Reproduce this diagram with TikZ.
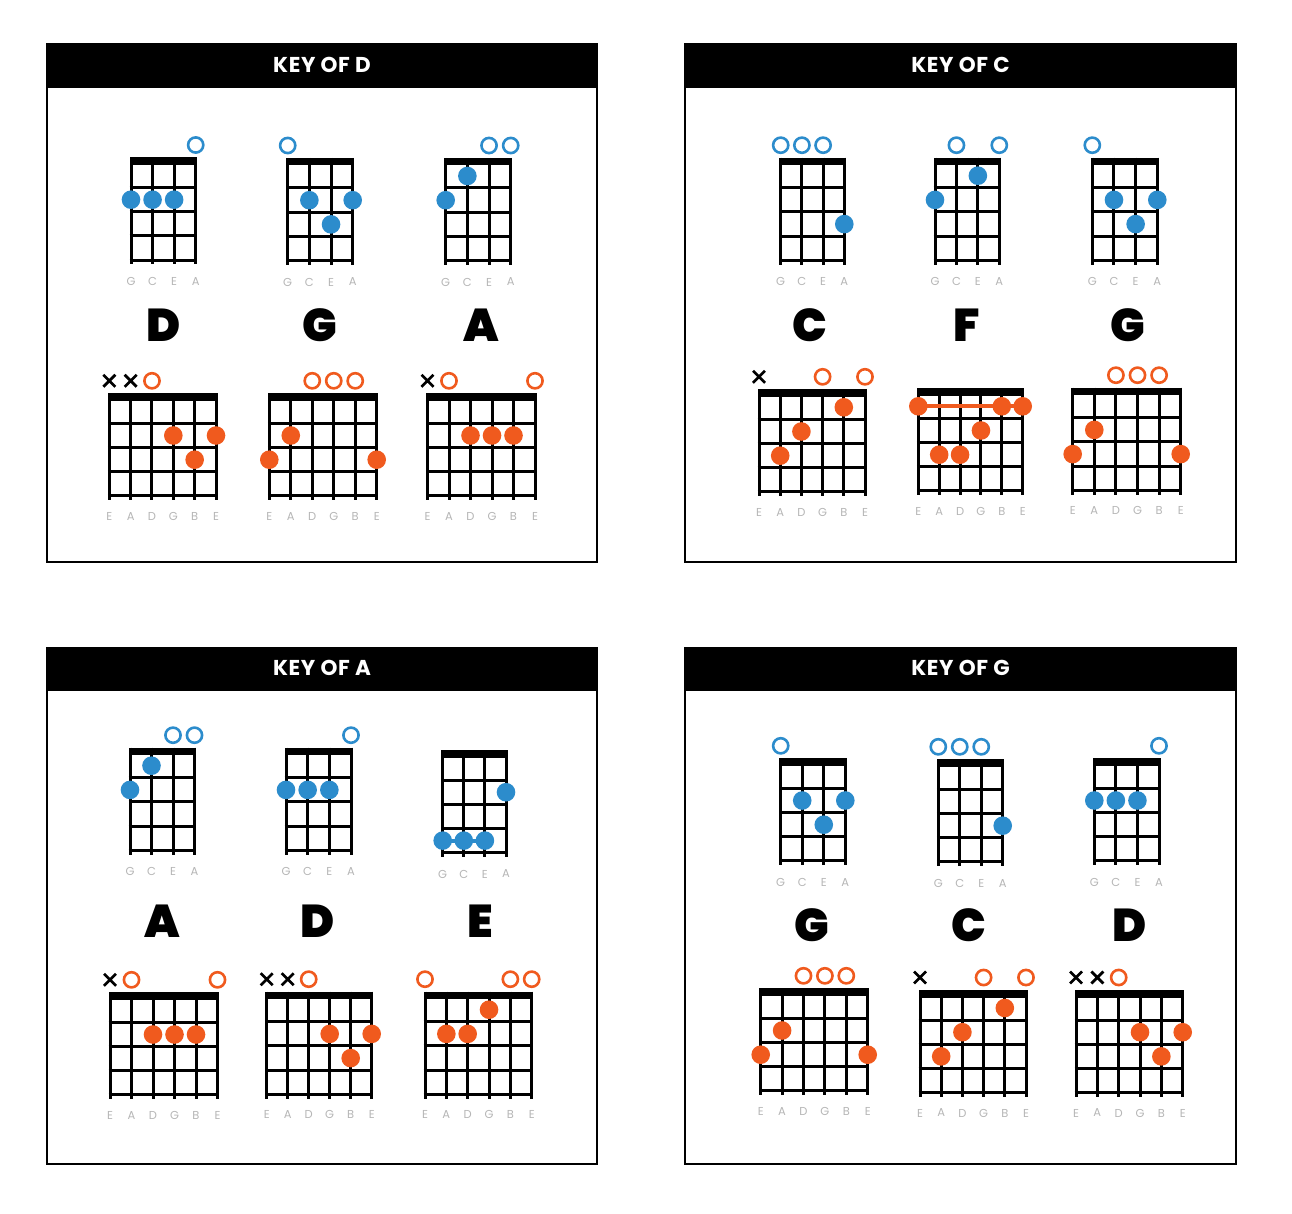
\documentclass[tikz,border=0pt]{standalone}
\usepackage{fontspec}
\setmainfont{Poppins}
\newfontfamily\chordfont{Poppins Black}
\newfontfamily\headfont{Poppins}[UprightFont=* Bold, LetterSpace=3]
\definecolor{ublue}{RGB}{44,140,204}
\definecolor{gorange}{RGB}{240,90,30}
\definecolor{lblgrey}{RGB}{182,182,182}
\tikzset{
  gridline/.style={line width=3pt, black},
  openmark/.style={line width=2.6pt, fill=white},
  xmark/.style={line width=2.7pt, black},
  strlabel/.style={font=\fontsize{11.5}{11.5}\selectfont, text=lblgrey, inner sep=0pt},
  chordname/.style={font=\chordfont\fontsize{46}{46}\selectfont, inner sep=0pt, anchor=base},
  header/.style={font=\headfont\fontsize{21.5}{21.5}\selectfont, text=white, inner sep=0pt},
  panelframe/.style={line width=2pt, black},
}
% grid: left string x, right string x, nut top y, number of strings
\newcommand\cgrid[4]{%
  \pgfmathsetmacro\gxl{#1}%
  \pgfmathsetmacro\gxr{#2}%
  \pgfmathsetmacro\gy{#3}%
  \pgfmathsetmacro\gdx{(#2-#1)/(#4-1)}%
  \pgfmathtruncatemacro\gn{#4-1}%
  \foreach \i in {0,...,\gn}{\draw[gridline] ({\gxl+\i*\gdx},\gy) -- ({\gxl+\i*\gdx},{\gy+107});}
  \foreach \k in {0,...,3}{\draw[gridline] ({\gxl-1.5},{\gy+30+24.2*\k}) -- ({\gxr+1.5},{\gy+30+24.2*\k});}
  \fill ({\gxl-1.5},\gy) rectangle ({\gxr+1.5},{\gy+7.5});
}
\newcommand\fng[3]{\fill[#3] ({\gxl+(#1-1)*\gdx},{\gy+18+24.2*(#2-1)}) circle[radius=9.3];}
\newcommand\opn[2]{\draw[openmark,draw=#2] ({\gxl+(#1-1)*\gdx},{\gy-12.5}) circle[radius=7.6];}
\newcommand\mut[1]{\draw[xmark] ({\gxl+(#1-1)*\gdx-6},{\gy-18.5}) -- ++(12,12) ({\gxl+(#1-1)*\gdx-6},{\gy-6.5}) -- ++(12,-12);}
\newcommand\cbarre[4]{\draw[line width=4pt,#4] ({\gxl+(#1-1)*\gdx},{\gy+18+24.2*(#3-1)}) -- ({\gxl+(#2-1)*\gdx},{\gy+18+24.2*(#3-1)});}
\newcommand\ukelabels{\foreach \l [count=\c] in {G,C,E,A}{\node[strlabel] at ({\gxl+(\c-1)*\gdx},{\gy+124}) {\l};}}
\newcommand\gtrlabels{\foreach \l [count=\c] in {E,A,D,G,B,E}{\node[strlabel] at ({\gxl+(\c-1)*\gdx},{\gy+123}) {\l};}}
\newcommand\panel[5]{%
  \draw[panelframe] (#1,#3) rectangle (#2,#4);
  \fill ({#1-1},{#3-0.5}) rectangle ({#2+1},{#3+43.5});
  \node[header] at ({(#1+#2)/2},{#3+20.5}) {#5};
}
\begin{document}
\begin{tikzpicture}[x=1pt,y=-1pt]
\useasboundingbox[fill=white] (0,0) rectangle (1292,1214);
% ===== panels
\panel{47}{597}{44.5}{561.5}{KEY OF D}
\panel{685}{1236}{44.5}{561.5}{KEY OF C}
\panel{47}{597}{647.5}{1164}{KEY OF A}
\panel{685}{1236}{647.5}{1164}{KEY OF G}

% ===== KEY OF D
\cgrid{131}{195.7}{157.5}{4}\opn{4}{ublue}\fng{1}{2}{ublue}\fng{2}{2}{ublue}\fng{3}{2}{ublue}\ukelabels
\cgrid{287.7}{352.7}{158}{4}\opn{1}{ublue}\fng{2}{2}{ublue}\fng{4}{2}{ublue}\fng{3}{3}{ublue}\ukelabels
\cgrid{445.7}{510.7}{158}{4}\opn{3}{ublue}\opn{4}{ublue}\fng{2}{1}{ublue}\fng{1}{2}{ublue}\ukelabels
\node[chordname] (nD1) at (163.5,341.7) {D};
\node[chordname] (nG1) at (320,341.7) {G};
\node[chordname] (nA1) at (481.7,341.7) {A};
\cgrid{109.3}{216}{393.3}{6}\mut{1}\mut{2}\opn{3}{gorange}\fng{4}{2}{gorange}\fng{6}{2}{gorange}\fng{5}{3}{gorange}\gtrlabels
\cgrid{269.3}{376.7}{393.3}{6}\opn{3}{gorange}\opn{4}{gorange}\opn{5}{gorange}\fng{2}{2}{gorange}\fng{1}{3}{gorange}\fng{6}{3}{gorange}\gtrlabels
\cgrid{427.5}{535}{393.3}{6}\mut{1}\opn{2}{gorange}\opn{6}{gorange}\fng{3}{2}{gorange}\fng{4}{2}{gorange}\fng{5}{2}{gorange}\gtrlabels

% ===== KEY OF C
\cgrid{780.7}{844.3}{157.7}{4}\opn{1}{ublue}\opn{2}{ublue}\opn{3}{ublue}\fng{4}{3}{ublue}\ukelabels
\cgrid{935}{999.3}{157.7}{4}\opn{2}{ublue}\opn{4}{ublue}\fng{3}{1}{ublue}\fng{1}{2}{ublue}\ukelabels
\cgrid{1092.3}{1157.3}{157.7}{4}\opn{1}{ublue}\fng{2}{2}{ublue}\fng{4}{2}{ublue}\fng{3}{3}{ublue}\ukelabels
\node[chordname] (nC2) at (810,341.7) {C};
\node[chordname] (nF2) at (967,341.7) {F};
\node[chordname] (nG2) at (1128,341.7) {G};
\cgrid{759}{865}{389.3}{6}\mut{1}\opn{4}{gorange}\opn{6}{gorange}\fng{5}{1}{gorange}\fng{3}{2}{gorange}\fng{2}{3}{gorange}\gtrlabels
\cgrid{918.3}{1022.7}{388.3}{6}\cbarre{1}{6}{1}{gorange}\fng{1}{1}{gorange}\fng{5}{1}{gorange}\fng{6}{1}{gorange}\fng{4}{2}{gorange}\fng{2}{3}{gorange}\fng{3}{3}{gorange}\gtrlabels
\cgrid{1072.7}{1180.7}{387.7}{6}\opn{3}{gorange}\opn{4}{gorange}\opn{5}{gorange}\fng{2}{2}{gorange}\fng{1}{3}{gorange}\fng{6}{3}{gorange}\gtrlabels

% ===== KEY OF A
\cgrid{130}{194.5}{747.7}{4}\opn{3}{ublue}\opn{4}{ublue}\fng{2}{1}{ublue}\fng{1}{2}{ublue}\ukelabels
\cgrid{286}{351}{747.7}{4}\opn{4}{ublue}\fng{1}{2}{ublue}\fng{2}{2}{ublue}\fng{3}{2}{ublue}\ukelabels
\cgrid{442.7}{506}{750}{4}\cbarre{1}{3}{4}{ublue}\fng{4}{2}{ublue}\fng{1}{4}{ublue}\fng{2}{4}{ublue}\fng{3}{4}{ublue}\ukelabels
\node[chordname] (nA3) at (162,937) {A};
\node[chordname] (nD3) at (318,937) {D};
\node[chordname] (nE3) at (480,937) {E};
\cgrid{110}{217.5}{992.3}{6}\mut{1}\opn{2}{gorange}\opn{6}{gorange}\fng{3}{2}{gorange}\fng{4}{2}{gorange}\fng{5}{2}{gorange}\gtrlabels
\cgrid{266.7}{371.7}{991.7}{6}\mut{1}\mut{2}\opn{3}{gorange}\fng{4}{2}{gorange}\fng{6}{2}{gorange}\fng{5}{3}{gorange}\gtrlabels
\cgrid{425}{531.7}{991.7}{6}\opn{1}{gorange}\opn{5}{gorange}\opn{6}{gorange}\fng{4}{1}{gorange}\fng{2}{2}{gorange}\fng{3}{2}{gorange}\gtrlabels

% ===== KEY OF G
\cgrid{780.7}{845.3}{758.3}{4}\opn{1}{ublue}\fng{2}{2}{ublue}\fng{4}{2}{ublue}\fng{3}{3}{ublue}\ukelabels
\cgrid{938.3}{1002.7}{759.3}{4}\opn{1}{ublue}\opn{2}{ublue}\opn{3}{ublue}\fng{4}{3}{ublue}\ukelabels
\cgrid{1094.3}{1159}{758.3}{4}\opn{4}{ublue}\fng{1}{2}{ublue}\fng{2}{2}{ublue}\fng{3}{2}{ublue}\ukelabels
\node[chordname] (nG4) at (812,941) {G};
\node[chordname] (nC4) at (969,941) {C};
\node[chordname] (nD4) at (1130,941) {D};
\cgrid{760.7}{867.7}{988.3}{6}\opn{3}{gorange}\opn{4}{gorange}\opn{5}{gorange}\fng{2}{2}{gorange}\fng{1}{3}{gorange}\fng{6}{3}{gorange}\gtrlabels
\cgrid{920}{1026}{990}{6}\mut{1}\opn{4}{gorange}\opn{6}{gorange}\fng{5}{1}{gorange}\fng{3}{2}{gorange}\fng{2}{3}{gorange}\gtrlabels
\cgrid{1076}{1182.7}{990}{6}\mut{1}\mut{2}\opn{3}{gorange}\fng{4}{2}{gorange}\fng{6}{2}{gorange}\fng{5}{3}{gorange}\gtrlabels
\end{tikzpicture}
\end{document}
